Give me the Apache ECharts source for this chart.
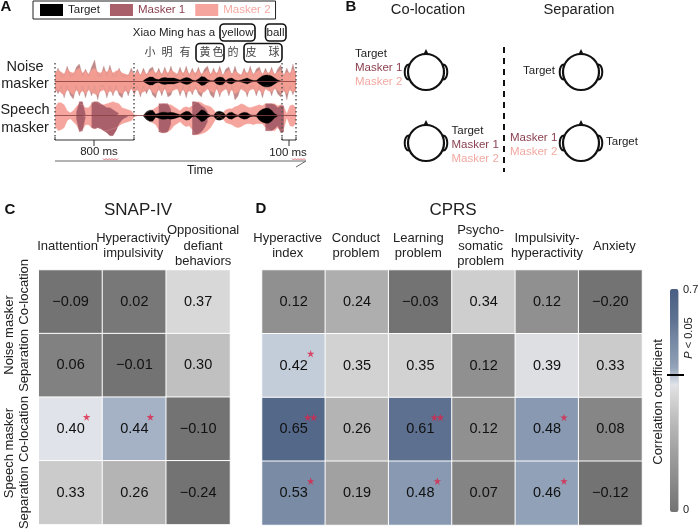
<!DOCTYPE html>
<html><head><meta charset="utf-8">
<style>html,body{margin:0;padding:0;background:#fff}#c{width:700px;height:532px}</style>
<script src="https://cdn.jsdelivr.net/npm/echarts@6/dist/echarts.min.js"></script>
</head><body><div id="c"></div>
<script>
// ---------- Heat map data ----------
const snapCols = ["Inattention","Hyperactivity\nimpulsivity","Oppositional\ndefiant\nbehaviors"];
const cprsCols = ["Hyperactive\nindex","Conduct\nproblem","Learning\nproblem","Psycho-\nsomatic\nproblem","Impulsivity-\nhyperactivity","Anxiety"];
const rowNames = ["Co-location","Separation","Co-location ","Separation "];
const snapValues = [
 [-0.09,0.02,0.37],
 [0.06,-0.01,0.30],
 [0.40,0.44,-0.10],
 [0.33,0.26,-0.24]];
const cprsValues = [
 [0.12,0.24,-0.03,0.34,0.12,-0.20],
 [0.42,0.35,0.35,0.12,0.39,0.33],
 [0.65,0.26,0.61,0.12,0.48,0.08],
 [0.53,0.19,0.48,0.07,0.46,-0.12]];
// [column, row, number of stars]
const snapStars = [[0,2,1],[1,2,1]];
const cprsStars = [[0,1,1],[0,2,2],[2,2,2],[4,2,1],[0,3,1],[2,3,1],[4,3,1]];
const scaleColors = ['#737373','#797979','#7f7f7f','#858585','#8b8b8b','#919191','#979797','#9d9d9d','#a3a3a3','#aaaaaa','#b1b1b1','#b8b8b8','#c0c0c0','#c9c9c9','#d2d2d2','#dadada','#e0e3e9','#bcc6d5','#96a5bb','#8a9ab2','#8293ad','#7b8ca7','#7485a2','#6a7c9a','#5f7292','#596d8e','#54688a','#4f6388','#4a5f85'];

// ---------- Waveform envelopes (80 samples, amplitude) ----------
const noiseM2Up   = [8,11,9,7,12,9,8,11,13,8,10,7,11,13,9,8,11,9,12,8,10,11,8,7,6,10,7,9,6,10,7,9,11,8,10,7,11,8,11,9,7,10,8,11,7,10,8,11,7,9,11,7,10,8,11,6,9,11,7,10,8,6,10,8,11,7,9,11,7,10,8,11,7,9,11,6,9,8,12,9];
const noiseM2Down = [11,9,12,14,9,11,14,9,12,10,13,9,11,13,14,10,9,13,10,12,9,11,13,10,11,8,11,9,12,11,9,8,11,13,9,11,8,12,11,9,8,11,9,12,10,11,8,10,12,11,8,10,12,8,13,10,8,11,9,13,11,8,10,12,9,8,11,9,13,8,10,11,8,9,12,10,13,9,11,10];
const noiseM1Up   = [5,13,5,5,15,5,5,14,17,5,12,5,14,21,5,5,15,5,16,5,5,13,5,5,5,13,5,12,5,13,5,12,14,5,13,5,14,5,15,5,5,14,5,15,5,13,5,14,5,12,15,5,13,5,15,5,12,14,5,15,5,5,13,5,15,5,12,14,5,13,5,14,5,12,16,5,13,5,17,5];
const noiseM1Down = [5,13,5,17,5,14,18,5,15,5,17,5,15,5,19,5,5,17,5,15,5,14,17,5,15,5,14,5,16,5,13,5,14,17,5,15,5,16,14,5,5,15,5,17,5,14,5,13,16,5,5,14,17,5,16,5,5,15,5,19,15,5,5,16,5,5,15,5,17,5,5,15,5,13,16,5,19,5,14,5];
const noiseTarget = [0,0,0,0,0,0,0,0,0,0,0,0,0,0,0,0,0,0,0,0,0,0,0,0,0,0,0,0,0,0.5,2.5,4,4,2,1.5,3,3.5,3,3,3,2,1,2.5,3.5,3,1,0.3,2,4.5,4,1.5,0.3,0.3,3,4,3.5,0.5,2.5,3,1,0.3,1,2,3,1.5,0.5,0.5,3,5,6,6,5,3,1,0.3,0,0,0,0,0];
const speechM2Up   = [8,13,13,11,5,3,5,9,12,11,8,8,12,14,13,11,11,12,13,14,13,12,8,7,6,5,1,0.3,0,0.3,3,5,6,8,10,12,12,11,11,9,7,5,8,9,8,10,13,14,13,11,10,9,6,2,1,3,6,7,7,9,10,12,11,9,8,9,10,11,10,12,12,12,12,10,11,9,2,10,11,8];
const speechM2Down = [10,15,14,12,5,3,6,9,15,14,9,9,12,13,12,13,15,15,14,13,12,10,8,7,6,5,1,0.3,0,0.3,3,6,7,9,14,17,17,16,14,10,8,6,9,11,10,14,19,19,18,17,15,12,7,2,1,3,7,8,9,11,12,11,9,8,8,9,8,8,8,12,14,15,15,12,15,13,2,10,11,7];
const speechM1Up   = [0,0,0,0,1,0,0,3,14,14,1,0,13,14,14,12,10,8,8,6,4,2,0,0,0,0,0,0,0,0,0,0,0,0,12,12,12,12,6,0,0,0,0,0,0,14,14,13,10,8,4,0,0,0,0,0,0,0,0,0,0,0,0,0,0,0,0,0,0,12,12,12,11,8,10,10,0,0,0,0];
const speechM1Down = [0,0,0,0,1,0,0,3,16,15,1,0,12,13,12,13,15,17,20,20,15,8,4,2,1,0,0,0,0,0,0,0,0,0,16,17,17,16,8,0,0,0,0,0,0,19,19,18,16,12,6,0,0,0,0,0,0,0,0,0,0,0,0,0,0,0,0,0,0,15,15,15,13,10,17,16,0,0,0,0];
const speechTarget = [0,0,0,0,0,0,0,0,0,0,0,0,0,0,0,0,0,0,0,0,0,0,0,0,0,0,0,0,0,0.5,4,5.5,5.5,1.5,2.5,3.5,3.5,3,3.5,3,2,1,3,4.5,4,1,0.5,3,6,5,2,0.5,0.5,4,4.5,3.5,0.5,3,3.5,1.5,0.5,2.5,3.5,3,1,0.5,0.8,4.5,6.5,7.5,7.5,5.5,2,0.5,0,0,0,0,0,0];
const sampleIndex = noiseM2Up.map((_, i) => i);

const C_TARGET = '#000000', C_M1 = '#a9606b', C_M2 = '#f5a59d', C_NOISE_M2 = '#f29c92', C_NOISE_M1 = '#c08a8a';
const FONT = '"Liberation Sans", Arial, sans-serif';
const CJK = '"Noto Sans CJK SC", sans-serif';

function cells(rows){const o=[];rows.forEach((r,y)=>r.forEach((v,x)=>o.push([x,y,v])));return o;}
function stars(list, dx){const o=[];list.forEach(s=>{
  if(s[2]===2){o.push({value:[s[0],s[1]],symbolOffset:[dx-3,-12]});o.push({value:[s[0],s[1]],symbolOffset:[dx+3,-12]});}
  else o.push({value:[s[0],s[1]],symbolOffset:[dx,-12]});
});return o;}
const STAR='path://M5 0L6.2 3.6L10 3.6L6.9 5.9L8.1 9.5L5 7.2L1.9 9.5L3.1 5.9L0 3.6L3.8 3.6Z';
function heat(g,rows){return {type:'heatmap',xAxisIndex:g,yAxisIndex:g,data:cells(rows),
  itemStyle:{borderColor:'#fff',borderWidth:1},
  label:{show:true,fontFamily:FONT,fontSize:14.5,color:'#111',formatter:p=>{const v=p.value[2];return (v<0?'\u2212':'')+Math.abs(v).toFixed(2);}},
  emphasis:{disabled:true}};}
function starS(g,list,dx){return {type:'scatter',xAxisIndex:g,yAxisIndex:g,symbol:STAR,symbolSize:7.5,z:5,
  itemStyle:{color:'#dc2448'},data:stars(list,dx),silent:true};}
function env(g,name,color,arr,sign){return {type:'line',name,xAxisIndex:g,yAxisIndex:g,data:arr.map(v=>v===0?null:v*sign),
  showSymbol:false,symbol:'none',silent:true,animation:false,connectNulls:false,
  lineStyle:{width:0.3,color},itemStyle:{color},areaStyle:{color,opacity:1,origin:0}};}
function layer(g,name,color,up,down){return [env(g,name,color,up,1),env(g,name,color,down,-1)];}

function hLabels(shifts){return {
  show:true,interval:0,fontFamily:FONT,fontSize:13,color:'#222',margin:24,verticalAlign:'middle',lineHeight:15.5,
  formatter:(v,i)=>v.split('\n').map(l=>`{s${i}|${l}}`).join('\n'),
  rich:Object.fromEntries(shifts.map((d,i)=>[`s${i}`,{fontFamily:FONT,fontSize:13,color:'#222',lineHeight:15.5,
     padding:d<0?[0,-2*d,0,0]:[0,0,0,2*d]}]))};}

// ---------- annotation helpers ----------
const T=(text,x,y,o={})=>({type:'text',x,y,rotation:o.rot||0,z:20,silent:true,style:{text,fontFamily:o.ff||FONT,fontSize:o.fs||13,fontWeight:o.fw||'normal',fontStyle:o.it?'italic':'normal',fill:o.c||'#222',align:o.al||'center',verticalAlign:'middle'}});
const L=(pts,o={})=>({type:'polyline',z:o.z||20,silent:true,shape:{points:pts},style:{stroke:o.c||'#222',lineWidth:o.w||1,lineDash:o.d||null,fill:null}});
const BOX=(x,y,w,h)=>({type:'rect',z:20,silent:true,shape:{x,y,width:w,height:h,r:4},style:{stroke:'#111',lineWidth:1.6,fill:null}});
function head(cx,cy){return [
  {type:'ellipse',z:18,silent:true,shape:{cx:cx-17.5,cy,rx:3.8,ry:7.5},style:{fill:'#fff',stroke:'#111',lineWidth:2}},
  {type:'ellipse',z:18,silent:true,shape:{cx:cx+17.5,cy,rx:3.8,ry:7.5},style:{fill:'#fff',stroke:'#111',lineWidth:2}},
  {type:'polygon',z:18,silent:true,shape:{points:[[cx,cy-23],[cx-3.5,cy-16],[cx+3.5,cy-16]]},style:{fill:'#111'}},
  {type:'circle',z:19,silent:true,shape:{cx,cy,r:18},style:{fill:'#fff',stroke:'#111',lineWidth:2.2}}];}
function squiggle(x0,x1,y){const p=[];let up=true;for(let x=x0;x<=x1;x+=1.5){p.push([x,up?y:y+1.5]);up=!up;}return L(p,{c:'#d05060',w:0.8});}

const DOT={c:'#555',w:1.5,d:[1.5,2.5]};
const M1T='#8a3f4e', M2T='#f2a9a2';
const graphics=[
  // panel letters
  T('A',6,7,{fs:15,fw:'bold',c:'#111'}),T('B',351,7,{fs:15,fw:'bold',c:'#111'}),
  T('C',10,210,{fs:15,fw:'bold',c:'#111'}),T('D',261,209,{fs:15,fw:'bold',c:'#111'}),
  // panel A text
  T('Xiao Ming has a',174,33,{fs:11.5}),T('yellow',237.5,33,{fs:11.5}),T('ball',275.5,33,{fs:11.5}),
  BOX(220,24,35,17),BOX(265.5,24,20.5,17),BOX(196,43.5,28,18.5),BOX(244,43.5,38,18.5),
  ...[['小',150],['明',167],['有',185],['黄',205],['色',218],['的',233],['皮',251],['球',274]].map(a=>T(a[0],a[1],52,{ff:CJK,fs:11,c:'#444'})),
  T('Noise',25,67,{fs:14.5}),T('masker',25,84,{fs:14.5}),T('Speech',25,110,{fs:14.5}),T('masker',25,128,{fs:14.5}),
  L([[55,63],[55,140]],DOT),L([[134,63],[134,140]],DOT),L([[282,63],[282,140]],DOT),L([[296,63],[296,140]],DOT),
  L([[55,137],[55,140],[134,140],[134,137]],{c:'#333'}),L([[94,140],[94,146]],{c:'#333'}),
  L([[282,137],[282,140],[296,140],[296,137]],{c:'#333'}),L([[289,140],[289,146]],{c:'#333'}),
  T('800 ms',99,152,{fs:11.5}),T('100 ms',288,153,{fs:11.5}),squiggle(103,118,158.5),squiggle(292,306,158.5),
  L([[55,161],[306,161],[296,167]],{c:'#666',w:1}),T('Time',200,170.5,{fs:12}),
  // panel B
  T('Co-location',428,10,{fs:14.7}),T('Separation',579,10,{fs:14.7}),
  ...head(426,72),...head(426,143),...head(581,72),...head(581,143),
  L([[504,47],[504,172]],{c:'#111',w:2,d:[6,5]}),
  T('Target',355,54,{fs:11.5,al:'left'}),T('Masker 1',355,68,{fs:11.5,al:'left',c:M1T}),T('Masker 2',355,82,{fs:11.5,al:'left',c:M2T}),
  T('Target',451.5,131,{fs:11.5,al:'left'}),T('Masker 1',451.5,145,{fs:11.5,al:'left',c:M1T}),T('Masker 2',451.5,158.5,{fs:11.5,al:'left',c:M2T}),
  T('Target',523,71,{fs:11.5,al:'left'}),
  T('Masker 1',510,138,{fs:11.5,al:'left',c:M1T}),T('Masker 2',510,152,{fs:11.5,al:'left',c:M2T}),T('Target',606,142,{fs:11.5,al:'left'}),
  // panels C, D titles
  T('SNAP-IV',138,210,{fs:17}),T('CPRS',453,210,{fs:17}),
  T('Noise masker',9,335,{rot:Math.PI/2}),T('Speech masker',9,453,{rot:Math.PI/2}),
  // colour bar annotations
  T('0.7',683,290,{fs:11,al:'left'}),T('0',683,510,{fs:11,al:'left'}),
  T('Correlation coefficient',658,402,{rot:Math.PI/2,fs:13}),
  {type:'text',x:689,y:338,rotation:Math.PI/2,z:20,silent:true,style:{text:'{i|P} < 0.05',rich:{i:{fontStyle:'italic',fontFamily:FONT,fontSize:11,fill:'#222'}},fontFamily:FONT,fontSize:11,fill:'#222',align:'center',verticalAlign:'middle'}},
  L([[667,375],[684,375]],{c:'#000',w:2,z:25})
];

const wfAxisX=g=>({type:'category',gridIndex:g,data:sampleIndex,boundaryGap:false,z:6,
  axisLine:{show:true,onZero:true,lineStyle:{color:'#843c3c',width:0.8}},axisTick:{show:false},axisLabel:{show:false},splitLine:{show:false}});
const wfAxisY=g=>({type:'value',gridIndex:g,min:-23,max:23,show:false});

const chart=echarts.init(document.getElementById('c'),null,{renderer:'canvas'});
chart.setOption({
  animation:false,backgroundColor:'#fff',
  textStyle:{fontFamily:FONT},
  legend:{left:33,top:1,padding:[3,5,3,7],itemGap:10,itemWidth:23,itemHeight:12,icon:'rect',selectedMode:false,
    borderColor:'#222',borderWidth:1,
    formatter:n=>n==='Target'?`{t|${n}}`:(n==='Masker 1'?`{a|${n}}`:`{b|${n}}`),
    textStyle:{fontFamily:FONT,fontSize:11.5,rich:{
      t:{fontFamily:FONT,fontSize:11.5,color:'#222',padding:[0,15,0,0]},
      a:{fontFamily:FONT,fontSize:11.5,color:M1T,padding:[0,8,0,0]},
      b:{fontFamily:FONT,fontSize:11.5,color:M2T}}},
    data:[
     {name:'Target',itemStyle:{color:C_TARGET}},
     {name:'Masker 1',itemStyle:{color:C_M1}},
     {name:'Masker 2',itemStyle:{color:C_M2}}]},
  grid:[
    {left:38.7,top:270,width:191.3,height:255},
    {left:262,top:270,width:380,height:255},
    {left:55,top:58,width:241,height:46},
    {left:55,top:92.7,width:241,height:46}],
  xAxis:[
    {type:'category',gridIndex:0,position:'top',data:snapCols,axisLine:{show:false},axisTick:{show:false},axisLabel:hLabels([-3,-1,5]),splitLine:{show:false}},
    {type:'category',gridIndex:1,position:'top',data:cprsCols,axisLine:{show:false},axisTick:{show:false},axisLabel:hLabels([-6,-1,-2,-3,0,4]),splitLine:{show:false}},
    wfAxisX(2),wfAxisX(3)],
  yAxis:[
    {type:'category',gridIndex:0,inverse:true,data:rowNames,axisLine:{show:false},axisTick:{show:false},
      axisLabel:{interval:0,rotate:90,margin:14,verticalAlign:'middle',align:'center',fontFamily:FONT,fontSize:13,color:'#222',
        formatter:(v,i)=>`{r${i}|${v.trim()}}`,
        rich:{r0:{padding:[0,0,0,20],fontSize:13,color:'#222'},r1:{padding:[0,0,0,10],fontSize:13,color:'#222'},r2:{fontSize:13,color:'#222'},r3:{padding:[0,10,0,0],fontSize:13,color:'#222'}}},splitLine:{show:false}},
    {type:'category',gridIndex:1,inverse:true,data:rowNames,axisLine:{show:false},axisTick:{show:false},axisLabel:{show:false},splitLine:{show:false}},
    wfAxisY(2),wfAxisY(3)],
  visualMap:{type:'continuous',seriesIndex:[0,1],dimension:2,min:0,max:0.7,calculable:false,hoverLink:false,realtime:false,
    orient:'vertical',left:670,top:289,itemWidth:8.5,itemHeight:223,padding:0,text:null,showLabel:false,
    inRange:{color:scaleColors},outOfRange:{color:'#717171'},textStyle:{fontSize:0}},
  series:[
    heat(0,snapValues),heat(1,cprsValues),
    starS(0,snapStars,16),starS(1,cprsStars,17),
    ...layer(2,'Masker 1',C_NOISE_M1,noiseM1Up,noiseM1Down),
    ...layer(2,'Masker 2',C_NOISE_M2,noiseM2Up,noiseM2Down),
    ...layer(2,'Target',C_TARGET,noiseTarget,noiseTarget),
    ...layer(3,'Masker 2',C_M2,speechM2Up,speechM2Down),
    ...layer(3,'Masker 1',C_M1,speechM1Up,speechM1Down),
    ...layer(3,'Target',C_TARGET,speechTarget,speechTarget)
  ],
  graphic:{elements:graphics}
});
</script></body></html>
